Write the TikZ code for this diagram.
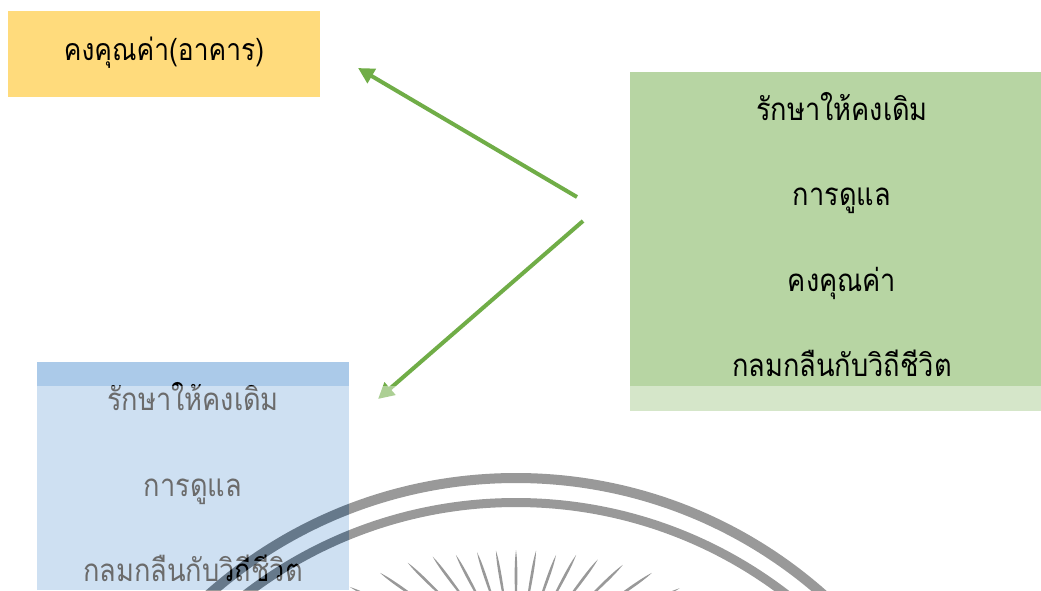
\documentclass[tikz,border=0pt]{standalone}
\usepackage{fontspec}
\usepackage{graphicx}
\newfontfamily\thaifont[Script=Thai]{Loma}
\usetikzlibrary{arrows.meta}
\definecolor{boxyellow}{HTML}{FFDB7C}
\definecolor{boxgreen}{HTML}{B7D5A3}
\definecolor{boxblue}{HTML}{ABCAE9}
\definecolor{arrowgreen}{HTML}{70AD47}
\newcommand{\thtext}[1]{\scalebox{1}[1.15]{#1}}
\newcommand{\sealrings}{(516,941) circle (468) (516,941) circle (458) (516,946) circle (448) (516,946) circle (439)}
\tikzset{
  x=1pt,y=-1pt,
  flat/.style={fill=#1,draw=none},
  label/.style={font=\thaifont\fontsize{27.2}{27.2}\selectfont,text=black,inner sep=0pt,anchor=base},
  titlelabel/.style={label,font=\thaifont\fontsize{26.4}{26.4}\selectfont},
  link/.style={draw=arrowgreen,line width=4pt,-{Triangle[length=16pt,width=16pt]}},
}
\begin{document}
\begin{tikzpicture}
\useasboundingbox (0,0) rectangle (1041,590);
\fill[white] (0,0) rectangle (1041,590);
\fill[flat=boxyellow] (8,11) rectangle (320,97);
\fill[flat=boxgreen] (630,72) rectangle (1041,411);
\fill[flat=boxblue] (37,362) rectangle (349,590);
\node[titlelabel] (t0) at (164,60) {\thtext{คงคุณค่า(อาคาร)}};
\node[label] (g1) at (842,120) {\thtext{รักษาให้คงเดิม}};
\node[label] (g2) at (842,205) {\thtext{การดูแล}};
\node[label] (g3) at (842,291) {\thtext{คงคุณค่า}};
\node[label] (g4) at (842,376) {\thtext{กลมกลืนกับวิถีชีวิต}};
\node[label] (b1) at (193,410) {\thtext{รักษาให้คงเดิม}};
\node[label] (b2) at (193,496) {\thtext{การดูแล}};
\node[label] (b3) at (193,581) {\thtext{กลมกลืนกับวิถีชีวิต}};
\coordinate (a1s) at (577,197);
\coordinate (a1e) at (358,68);
\coordinate (a2s) at (583,221);
\coordinate (a2e) at (378,399);
\draw[link] (a1s) -- (a1e);
\draw[link] (a2s) -- (a2e);
% translucent white veil of the seal image
\begin{scope}
\clip (0,386) rectangle (1041,590);
\fill[white,opacity=.42,even odd rule] (0,386) rectangle (1041,590) \sealrings;
\end{scope}
% seal
\begin{scope}
\clip (0,386) rectangle (1041,590);
\fill[black,opacity=.4,even odd rule] \sealrings;
\foreach \a/\r in {-64/185,-55/166,-45.8/151,-36.8/139,-28/128,-18.6/122,-9.7/119,0/118,9.7/119,19.5/120,28/128,37/136,46/148.5,55/166,64/182}{
  \begin{scope}[shift={(516,668)},rotate=-\a]
  \fill[black,opacity=.4] (0,-\r) .. controls (2,-\r+14) and (1.4,-\r+34) .. (0.5,-\r+62)
     -- (-0.5,-\r+62) .. controls (-1.4,-\r+34) and (-2,-\r+14) .. (0,-\r);
  \end{scope}
}
\end{scope}
\end{tikzpicture}
\end{document}
